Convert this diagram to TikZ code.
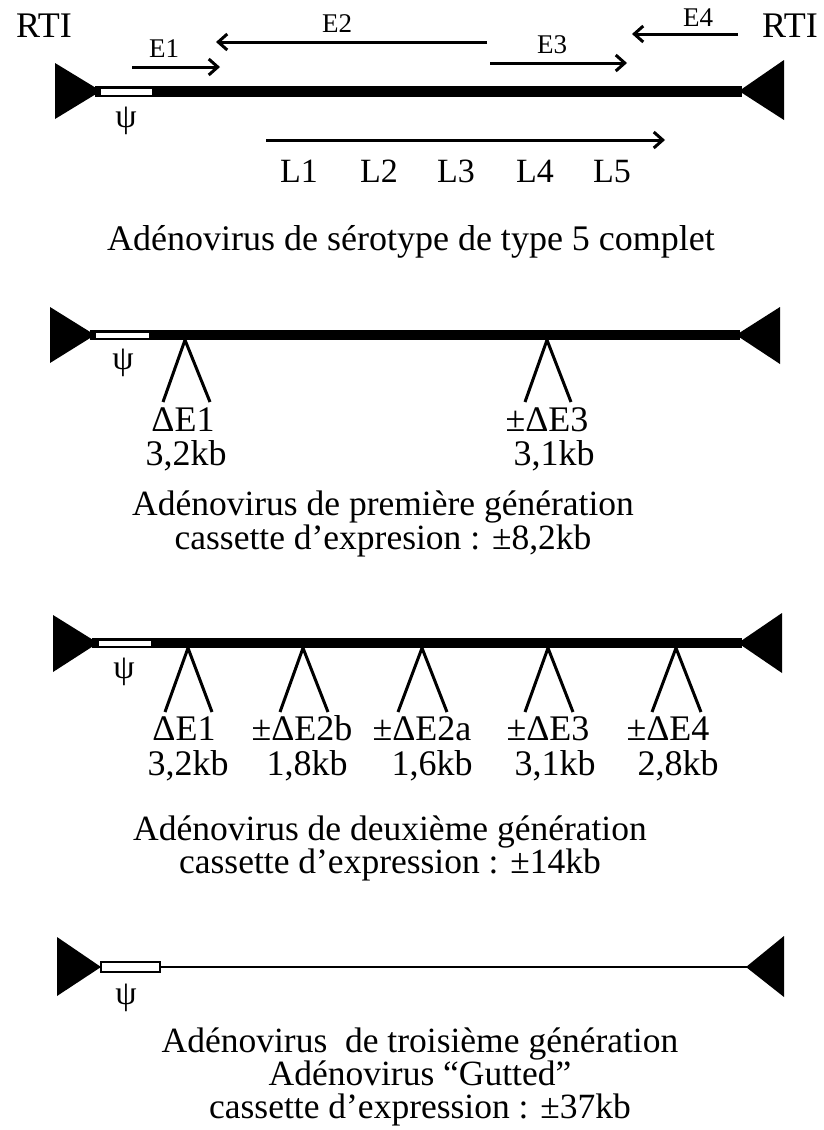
\documentclass[tikz,border=0pt]{standalone}
\usepackage{fontspec}
\setmainfont{Liberation Serif}
\usetikzlibrary{arrows.meta}
\tikzset{
  txt/.style={font=\fontsize{36}{40}\selectfont, inner sep=0pt, anchor=base},
  ttl/.style={font=\fontsize{35.5}{40}\selectfont, inner sep=0pt, anchor=base},
  ltxt/.style={font=\fontsize{34}{38}\selectfont, inner sep=0pt, anchor=base},
  etxt/.style={font=\fontsize{27}{30}\selectfont, inner sep=0pt, anchor=base},
  psitxt/.style={font=\fontsize{34}{36}\selectfont, inner sep=0pt, anchor=center},
  gene/.style={line width=3pt, -{Straight Barb[length=9pt,width=16pt]}},
  caret/.style={line width=3pt},
  itr/.style={fill=black},
}
\begin{document}
\begin{tikzpicture}[x=1pt,y=-1pt]
\useasboundingbox[fill=white] (0,0) rectangle (824,1130);

% ---------- Panel 1 : complete Ad5 ----------
\fill (95,85.5) rectangle (742,96.5);
\fill[white] (101,88.5) rectangle (152,94.5);
\fill[itr] (55,63) -- (55,119) -- (101,91) -- cycle;
\fill[itr] (784,60) -- (784,120) -- (739,91) -- cycle;
\node[psitxt] (psi1) at (126,121) {ψ};
\node[txt] (rtiL) at (44,37) {RTI};
\node[txt] (rtiR) at (790,37) {RTI};

\coordinate (e1s) at (132,67);  \coordinate (e1e) at (220,67);
\coordinate (e2s) at (487,42);  \coordinate (e2e) at (216,42);
\coordinate (e3s) at (490,63);  \coordinate (e3e) at (627,63);
\coordinate (e4s) at (738,34);  \coordinate (e4e) at (632,34);
\coordinate (ls)  at (266,140); \coordinate (le)  at (665,140);
\draw[gene] (e1s) -- (e1e);
\draw[gene] (e2s) -- (e2e);
\draw[gene] (e3s) -- (e3e);
\draw[gene] (e4s) -- (e4e);
\draw[gene] (ls) -- (le);
\node[etxt] (E1) at (164,57) {E1};
\node[etxt] (E2) at (337,32) {E2};
\node[etxt] (E3) at (552,53) {E3};
\node[etxt] (E4) at (698,26) {E4};
\node[ltxt] (L1) at (299,182) {L1};
\node[ltxt] (L2) at (379,182) {L2};
\node[ltxt] (L3) at (456,182) {L3};
\node[ltxt] (L4) at (535,182) {L4};
\node[ltxt] (L5) at (612,182) {L5};
\node[txt] (t1) at (411,250) {Adénovirus de sérotype de type 5 complet};

% ---------- Panel 2 : first generation ----------
\fill (90,330) rectangle (740,340);
\fill[white] (96,332.5) rectangle (149,338);
\fill[itr] (50,307) -- (50,363) -- (95,335) -- cycle;
\fill[itr] (780,307) -- (780,364) -- (736,335) -- cycle;
\node[psitxt] (psi2) at (123,363) {ψ};
\draw[caret] (163,402) -- (185,340) -- (210,402);
\draw[caret] (525,402) -- (547,340) -- (571,402);
\node[txt] (d2a) at (183,431) {ΔE1};
\node[txt] (k2a) at (186,465) {3,2kb};
\node[txt] (d2b) at (547,431) {±ΔE3};
\node[txt] (k2b) at (554,465) {3,1kb};
\node[ttl] (t2a) at (383,515) {Adénovirus de première génération};
\node[ttl] (t2b) at (383,549) {cassette d’expresion : ±8,2kb};

% ---------- Panel 3 : second generation ----------
\fill (92,638) rectangle (742,648);
\fill[white] (99,640.5) rectangle (151,645.5);
\fill[itr] (53,615) -- (53,672) -- (98,643) -- cycle;
\fill[itr] (782,613) -- (782,673) -- (738,643) -- cycle;
\node[psitxt] (psi3) at (124,672) {ψ};
\draw[caret] (165,712) -- (188,648) -- (212,712);
\draw[caret] (280,712) -- (303,648) -- (328,712);
\draw[caret] (398,712) -- (422,648) -- (447,712);
\draw[caret] (525,712) -- (548,648) -- (573,712);
\draw[caret] (652,712) -- (676,648) -- (701,712);
\node[txt] (d3a) at (184,740) {ΔE1};
\node[txt] (k3a) at (188,775) {3,2kb};
\node[txt] (d3b) at (302,740) {±ΔE2b};
\node[txt] (k3b) at (307,775) {1,8kb};
\node[txt] (d3c) at (422,740) {±ΔE2a};
\node[txt] (k3c) at (432,775) {1,6kb};
\node[txt] (d3d) at (548,740) {±ΔE3};
\node[txt] (k3d) at (555,775) {3,1kb};
\node[txt] (d3e) at (668,740) {±ΔE4};
\node[txt] (k3e) at (678,775) {2,8kb};
\node[ttl] (t3a) at (390,840) {Adénovirus de deuxième génération};
\node[ttl] (t3b) at (390,873) {cassette d’expression : ±14kb};

% ---------- Panel 4 : gutted ----------
\draw[line width=2.5pt] (100,967) -- (748,967);
\draw[line width=2pt, fill=white] (101,961.5) rectangle (160,972);
\fill[itr] (57,937) -- (57,996) -- (101,967) -- cycle;
\fill[itr] (784,936) -- (784,997) -- (746,967) -- cycle;
\node[psitxt] (psi4) at (126,998) {ψ};
\node[ttl] (t4a) at (420,1052) {Adénovirus\ \ de troisième génération};
\node[ttl] (t4b) at (420,1085) {Adénovirus “Gutted”};
\node[ttl] (t4c) at (420,1118) {cassette d’expression : ±37kb};
\end{tikzpicture}
\end{document}
